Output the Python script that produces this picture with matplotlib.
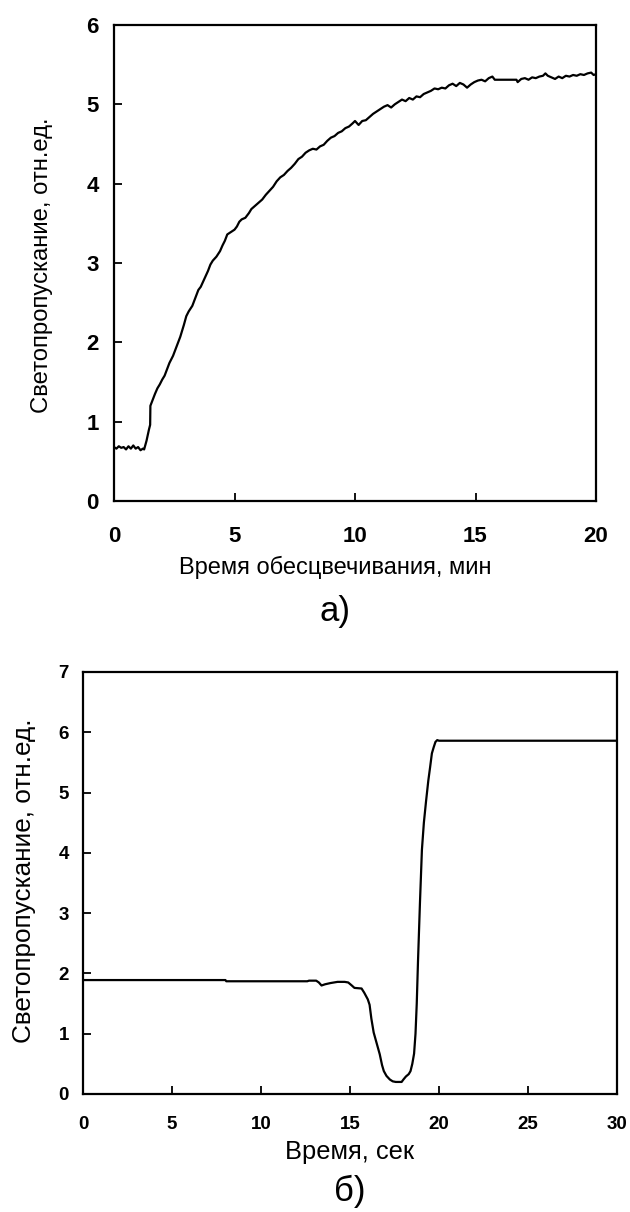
import matplotlib.pyplot as plt

plt.rcParams['font.family'] = ['Liberation Sans', 'DejaVu Sans']

# а) светопропускание при обесцвечивании
t_a = [0.0, 0.1, 0.2, 0.3, 0.4, 0.5, 0.6, 0.7, 0.8, 0.9, 1.0, 1.1, 1.2, 1.25,
       1.35, 1.45, 1.50, 1.51, 1.6, 1.7, 1.8, 1.9, 2.0, 2.1, 2.2, 2.3, 2.45,
       2.6, 2.75, 2.9, 3.0, 3.1, 3.25, 3.4, 3.5, 3.6, 3.75, 3.9, 4.0, 4.1,
       4.25, 4.4, 4.5, 4.6, 4.7, 4.8, 4.9, 5.0, 5.1, 5.2, 5.3, 5.45, 5.6,
       5.7, 5.85, 6.0, 6.15, 6.3, 6.45, 6.6, 6.75, 6.9, 7.05, 7.2, 7.35,
       7.5, 7.65, 7.8, 7.95, 8.1, 8.25, 8.4, 8.55, 8.7, 8.85, 9.0, 9.15,
       9.3, 9.45, 9.6, 9.75, 9.9, 10.0, 10.15, 10.3, 10.45, 10.6, 10.75,
       10.9, 11.05, 11.2, 11.35, 11.5, 11.65, 11.8, 11.95, 12.1, 12.25,
       12.4, 12.55, 12.7, 12.85, 13.0, 13.15, 13.3, 13.45, 13.6, 13.75,
       13.9, 14.05, 14.2, 14.35, 14.5, 14.65, 14.8, 14.95, 15.1, 15.25,
       15.4, 15.55, 15.7, 15.8, 16.7, 16.75, 16.9, 17.05, 17.2, 17.35,
       17.5, 17.65, 17.8, 17.9, 18.0, 18.15, 18.3, 18.45, 18.6, 18.75,
       18.9, 19.05, 19.2, 19.35, 19.5, 19.65, 19.8, 19.9, 20.0]
T_a = [0.68, 0.66, 0.69, 0.67, 0.68, 0.65, 0.69, 0.66, 0.70, 0.66, 0.68,
       0.64, 0.66, 0.65, 0.76, 0.90, 0.96, 1.20, 1.27, 1.35, 1.42, 1.47,
       1.53, 1.58, 1.66, 1.74, 1.83, 1.95, 2.07, 2.22, 2.33, 2.39, 2.46,
       2.58, 2.66, 2.70, 2.80, 2.90, 2.98, 3.03, 3.08, 3.15, 3.22, 3.28,
       3.36, 3.38, 3.40, 3.42, 3.46, 3.52, 3.55, 3.57, 3.63, 3.68, 3.72,
       3.76, 3.80, 3.86, 3.91, 3.96, 4.03, 4.08, 4.11, 4.16, 4.20, 4.25,
       4.31, 4.34, 4.39, 4.42, 4.44, 4.43, 4.47, 4.49, 4.54, 4.58, 4.60,
       4.64, 4.66, 4.70, 4.72, 4.76, 4.79, 4.74, 4.79, 4.80, 4.84, 4.88,
       4.91, 4.94, 4.97, 4.99, 4.96, 5.00, 5.03, 5.06, 5.04, 5.08, 5.06,
       5.10, 5.09, 5.13, 5.15, 5.17, 5.20, 5.19, 5.21, 5.20, 5.24, 5.26,
       5.23, 5.27, 5.25, 5.21, 5.25, 5.28, 5.30, 5.31, 5.29, 5.33, 5.35,
       5.31, 5.31, 5.28, 5.32, 5.33, 5.31, 5.34, 5.33, 5.35, 5.36, 5.39,
       5.36, 5.34, 5.32, 5.35, 5.33, 5.36, 5.35, 5.37, 5.36, 5.38, 5.37,
       5.39, 5.40, 5.37, 5.38]

# б) светопропускание во времени
t_b = [0.0, 8.0, 8.05, 12.6, 12.7, 13.1, 13.25, 13.4, 13.6, 13.9, 14.3, 14.7,
       14.9, 15.1, 15.25, 15.65, 15.8, 16.0, 16.1, 16.2, 16.33, 16.5, 16.67,
       16.8, 16.9, 17.05, 17.24, 17.4, 17.57, 17.9, 18.0, 18.14, 18.3, 18.4,
       18.5, 18.6, 18.68, 18.75, 18.82, 18.93, 19.04, 19.15, 19.27, 19.4,
       19.5, 19.6, 19.7, 19.8, 19.9, 20.0, 30.0]
T_b = [1.89, 1.89, 1.87, 1.87, 1.88, 1.88, 1.85, 1.80, 1.82, 1.84, 1.86, 1.86,
       1.85, 1.80, 1.76, 1.75, 1.68, 1.57, 1.48, 1.25, 1.02, 0.84, 0.66,
       0.48, 0.38, 0.30, 0.24, 0.21, 0.20, 0.20, 0.24, 0.29, 0.33, 0.38,
       0.50, 0.67, 1.00, 1.50, 2.20, 3.17, 4.05, 4.50, 4.85, 5.20, 5.42,
       5.65, 5.75, 5.84, 5.87, 5.86, 5.86]

W, H = 630, 1212
fig = plt.figure(figsize=(W / 100, H / 100), dpi=100)


def px_axes(l, t, r, b):
    return fig.add_axes([l / W, 1 - b / H, (r - l) / W, (b - t) / H])


def style(ax, fs, xpad, ypad):
    for s in ax.spines.values():
        s.set_linewidth(1.6)
    ax.tick_params(direction='in', length=6, width=1.3, labelsize=fs)
    ax.tick_params(axis='x', pad=xpad)
    ax.tick_params(axis='y', pad=ypad)
    for lab in ax.get_xticklabels() + ax.get_yticklabels():
        lab.set_fontweight('bold')


ax1 = px_axes(114, 25, 596, 501)
ax1.plot(t_a, T_a, color='black', lw=1.6)
ax1.set_xlim(0, 20)
ax1.set_ylim(0, 6)
ax1.set_xticks([0, 5, 10, 15, 20])
ax1.set_yticks(range(0, 7))
style(ax1, 16, 18, 11)
fig.text(42 / W, 1 - 265 / H, 'Светопропускание, отн.ед.', rotation=90,
         ha='center', va='center', fontsize=17.2)
fig.text(335 / W, 1 - 567 / H, 'Время обесцвечивания, мин',
         ha='center', va='center', fontsize=17)
fig.text(335 / W, 1 - 612 / H, 'а)', ha='center', va='center', fontsize=25)

ax2 = px_axes(83, 672, 617, 1094)
ax2.plot(t_b, T_b, color='black', lw=1.6)
ax2.set_xlim(0, 30)
ax2.set_ylim(0, 7)
ax2.set_xticks(range(0, 31, 5))
ax2.set_yticks(range(0, 8))
style(ax2, 13.5, 16, 10)
fig.text(24 / W, 1 - 881 / H, 'Светопропускание, отн.ед.', rotation=90,
         ha='center', va='center', fontsize=18.8)
fig.text(350 / W, 1 - 1152 / H, 'Время, сек',
         ha='center', va='center', fontsize=18.4)
fig.text(350 / W, 1 - 1191 / H, 'б)', ha='center', va='center', fontsize=25)

fig.savefig('out.png', dpi=100)
